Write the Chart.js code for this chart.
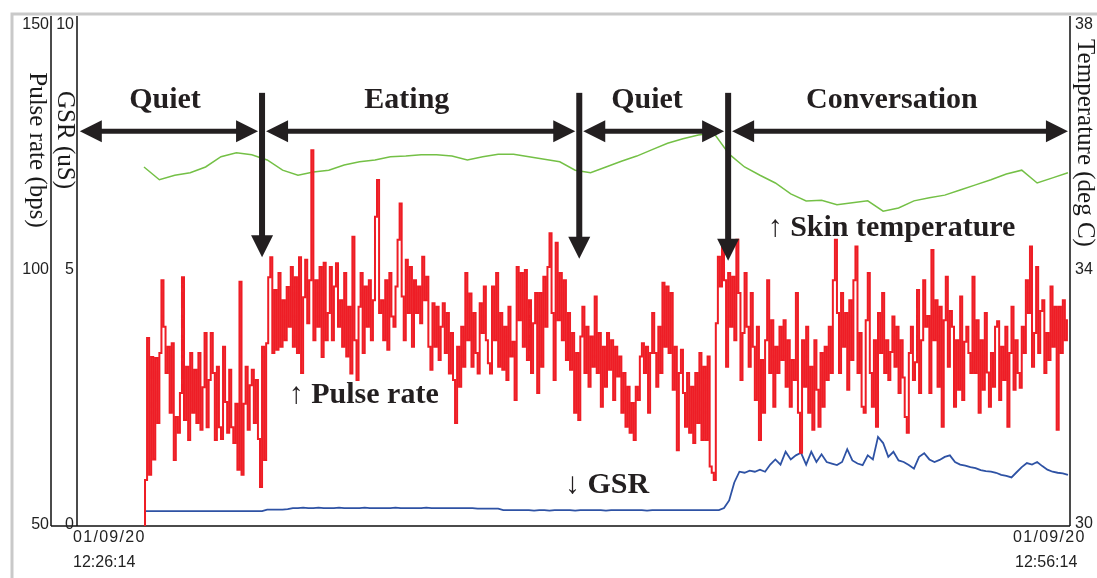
<!DOCTYPE html>
<html>
<head>
<meta charset="utf-8">
<script src="https://cdn.jsdelivr.net/npm/chart.js@4.4.0/dist/chart.umd.min.js"></script>
<style>
  html, body { margin: 0; padding: 0; background: #fff; }
  #wrap { width: 1097px; height: 578px; position: relative; }
</style>
</head>
<body>
<div id="wrap"><canvas id="c" width="1097" height="578"></canvas></div>
<script>
// ---- recorded signals (time in seconds from 12:26:14) ----
const pulseStep = 4;   // s between pulse samples
const pulseRate = [
  50, 59, 86.7, 60, 83, 63, 82.8, 70.1, 83.8, 98,
  88.9, 79.9, 85, 72.1, 85.7, 62.9, 71.3, 68.2, 76, 98.6,
  70.7, 81.1, 66.8, 83.8, 72.1, 80.5, 70.1, 83.8, 68.8, 77.1,
  87.7, 69.3, 78.5, 87.7, 79.9, 66.8, 81.1, 69.3, 67, 85,
  74.2, 68.2, 80.5, 69.3, 66.2, 73.9, 61, 97.7, 60, 73.9,
  81.1, 68.8, 77.5, 80.5, 70.1, 78.5, 67, 57.6, 85, 62.9,
  85.7,
  98.6, 102.5, 83.8, 96.1, 84.4, 99.4, 85, 94.1, 86.3, 96.7,
  88.9, 100.6, 85, 98.6, 83.8, 102.5, 79.9, 94.7, 102, 89.6,
  98, 123.4, 86.3, 98, 88.9, 100.6, 83, 101.4, 86.3, 91.6,
  100.6, 86.3, 96.8, 101.3, 88.9, 94.1, 85, 99.4, 83.1, 92.8,
  79.8, 106.5, 86.3, 78.5, 92.8, 99.4, 83.8, 96.8, 88.9, 98,
  86.3, 94.1, 110.4, 117.6, 91.6, 94.1, 86.3, 98, 84.4, 99.4,
  90.9, 88.9, 96.8, 105.9, 113, 94.8, 86.3, 102, 91.6, 100.6,
  85, 98, 91.6, 96.8, 89.6, 102.6, 94.1, 98.7, 85, 80.5,
  93.5, 85, 92.8, 82.4, 88.9, 93.5, 83.8, 91.6, 79.8, 87.7,
  78.5, 70.1, 85, 77.2, 88.9, 81.1, 99.4, 86.3, 95.4, 81.1,
  91.6, 83.8, 79.8, 93.5, 87.7, 96.8, 86.3, 81.8, 79.8, 96.8,
  86.3, 99.4, 81.1, 91.6, 80.5, 88.9, 78.5, 92.8, 83.1, 86,
  74.6, 100.6, 90.2, 99.4, 85, 100, 82.4, 94.1, 79.9, 89.6,
  95.5, 76, 95.5, 81.1, 98.7, 88.9, 100.6, 107.2, 91.6, 78.5,
  105.3, 90.2, 99.4, 86.3, 98, 82.4, 91.6, 80.5, 87.7, 72.1,
  83.8, 70.7, 87, 92.8, 79.9, 88.9, 77.2, 87, 81.1, 94.8,
  79.9, 87.7, 73.3, 85, 77.2, 87.7, 80.5, 86.3, 74.6, 85,
  79.2, 83.1, 72.1, 79.9, 69.4, 77.2, 68.2, 74, 66.8, 77.2,
  74.6, 83.1, 85.7, 79.9, 85, 72.1, 83.8, 91.6, 83.8, 77.2,
  88.9, 79.9, 97.5, 85, 96.8, 83.8, 95.5, 76.6, 85, 64.8,
  79.9, 84.4, 76, 69.4, 79.9, 68.2, 77.2, 66.2, 79.9, 70.1,
  83.8, 66.8, 81.1, 66.8, 83.1, 61.6, 60.4, 59,
  89.6, 102.6, 96.8, 105.3, 98, 81.1, 99.4, 88.9, 98.7, 86.3,
  105.9, 95.5, 78.5, 87.7, 99.4, 88.9, 81.1, 95.5, 85, 74.6,
  88.9, 66.8, 82.4, 72.1, 86.3, 98, 79.9, 90.2, 73.3, 85,
  79.9, 88.9, 82.4, 90.2, 77.2, 86.3, 73.3, 82.4, 78.5, 95.5,
  72.1, 64.3, 86.3, 77.2, 88.9, 72.1, 81.1, 68.8, 86.3, 76.6,
  69.4, 83.8, 73.3, 85, 78.5, 88.9, 79.9, 98, 105.9, 91.6,
  79.9, 95.5, 85, 91.6, 76.6, 94.1, 82.4, 98, 104.6, 79.9,
  87.7, 73.3, 72.1, 90.2, 99.4, 79.9, 73.3, 86.3, 69.4, 91.6,
  83.8, 95.5, 79.9,
  86.3, 78.5, 84, 90.9, 81.1, 88.9, 76, 86.3, 79, 71.3,
  68.2, 83.8, 88.9, 78.5, 82, 96.1, 76, 86.3, 98, 88.9,
  91, 76, 103.9, 86.3, 94.1, 77.2, 92.8, 69.4, 90.2, 98.7,
  81.1, 92, 88.9, 73.3, 86.3, 76.6, 94.8, 74.6, 86, 88.9,
  83.8, 79.9, 98.7, 79.9, 90.2, 72.1, 86.3, 76.6, 91.6, 80,
  73.3, 83.8, 77.2, 88.9, 90, 74.6, 85, 78.5, 88.9, 69.4,
  83.8, 92.8, 76.6, 86.3, 79.9, 77, 88.9, 83.8, 98, 91.6,
  104.6, 81.1, 87.7, 100.6, 83.8, 92, 94.1, 79.9, 87.7, 82.4,
  96.8, 85, 92.8, 68.8, 92.8, 83.8, 94.1, 86.3, 90.2
];

const gsrStep = 10;    // s between GSR samples
const gsr = [
  0.29, 0.29, 0.29, 0.29, 0.29, 0.29, 0.29, 0.29, 0.29, 0.29,
  0.29, 0.29, 0.29, 0.29, 0.29, 0.29, 0.29, 0.29, 0.29, 0.29,
  0.29, 0.29, 0.29, 0.29, 0.32, 0.32, 0.32, 0.32, 0.33, 0.35,
  0.35, 0.36, 0.35, 0.35, 0.36, 0.35, 0.35, 0.35, 0.36, 0.35,
  0.35, 0.35, 0.35, 0.36, 0.35, 0.35, 0.35, 0.35, 0.35, 0.36,
  0.35, 0.35, 0.35, 0.35, 0.35, 0.36, 0.35, 0.35, 0.35, 0.35,
  0.35, 0.35, 0.35, 0.35, 0.35, 0.34, 0.34, 0.34, 0.34, 0.34,
  0.31, 0.31, 0.31, 0.31, 0.31, 0.31, 0.30, 0.31, 0.31, 0.30,
  0.31, 0.31, 0.31, 0.31, 0.30, 0.31, 0.31, 0.31, 0.31, 0.31,
  0.30, 0.31, 0.31, 0.31, 0.31, 0.31, 0.31, 0.31, 0.30, 0.31,
  0.31, 0.31, 0.31, 0.31, 0.31, 0.31, 0.31, 0.31, 0.31, 0.31,
  0.31, 0.31, 0.31,
  0.35, 0.5, 0.85, 1.06, 1.04, 1.08, 1.06, 1.1, 1.06, 1.2,
  1.3, 1.2, 1.45, 1.3, 1.38, 1.43, 1.2, 1.45, 1.25, 1.4,
  1.25, 1.22, 1.19, 1.25, 1.5, 1.28, 1.22, 1.19, 1.38, 1.3,
  1.74, 1.62, 1.35, 1.45, 1.28, 1.25, 1.19, 1.12, 1.35, 1.42,
  1.3, 1.25, 1.29, 1.35, 1.38, 1.25, 1.2, 1.18, 1.15, 1.13,
  1.09, 1.07, 1.06, 1.04, 1.0, 0.98, 0.95, 1.05, 1.15, 1.23,
  1.2, 1.25, 1.17, 1.1, 1.06, 1.04, 1.03, 1.0
];

const tempStep = 30;   // s between skin temperature samples
const skinTemp = [
  35.61, 35.41, 35.48, 35.52, 35.61, 35.77, 35.83, 35.80, 35.72, 35.56,
  35.48, 35.53, 35.56, 35.64, 35.69, 35.72, 35.77, 35.78, 35.80, 35.80,
  35.78, 35.72, 35.77, 35.81, 35.81, 35.77, 35.73, 35.69, 35.56, 35.52,
  35.61, 35.70, 35.78, 35.88, 35.98, 36.05, 36.11, 36.14, 35.81, 35.61,
  35.48, 35.36, 35.19, 35.08, 35.09, 35.02, 35.05, 35.08, 34.92, 34.97,
  35.08, 35.13, 35.17, 35.25, 35.33, 35.41, 35.50, 35.56, 35.36, 35.44,
  35.52
];

// ---- axes ----
const pulseTicks = [150, 100, 50];
const gsrTicks = [10, 5, 0];
const tempTicks = [38, 34, 30];
const startStamp = ['01/09/20', '12:26:14'];
const endStamp = ['01/09/20', '12:56:14'];

// ---- activity phases (s) ----
const phaseNames = ['Quiet', 'Eating', 'Quiet', 'Conversation'];
const phaseFrom = [-125, 230, 848, 1138];
const phaseTo = [230, 848, 1138, 1800];
const phaseLabelAt = [41, 512, 980, 1457];
const eventTimes = [230, 848, 1138];
const eventTips = [102.5, 102.2, 101.8];

const SERIF = '"Liberation Serif", "Times New Roman", serif';
const SANS = '"Liberation Sans", Arial, sans-serif';
const INK = '#231f20';

const toPoints = (arr, step) => arr.map((v, i) => ({ x: i * step, y: v }));

const decor = {
  id: 'decor',
  beforeDatasetsDraw(chart) {
    const { ctx, chartArea: a, scales } = chart;
    const p = scales.yPulse, g = scales.yGsr;
    ctx.save();
    // outer window frame
    ctx.strokeStyle = '#c9c9c9';
    ctx.lineWidth = 3;
    ctx.beginPath();
    ctx.moveTo(p.left, chart.height);
    ctx.lineTo(p.left, a.top);
    ctx.lineTo(chart.width, a.top);
    ctx.stroke();
    // axis lines
    ctx.strokeStyle = '#111';
    ctx.lineWidth = 1.5;
    ctx.beginPath();
    ctx.moveTo(p.right, a.top + 2); ctx.lineTo(p.right, a.bottom);
    ctx.moveTo(g.right, a.top + 2); ctx.lineTo(g.right, a.bottom);
    ctx.moveTo(a.right, a.top + 2); ctx.lineTo(a.right, a.bottom);
    ctx.moveTo(p.right, a.bottom); ctx.lineTo(a.right, a.bottom);
    ctx.stroke();
    ctx.restore();
  },
  afterDatasetsDraw(chart) {
    const { ctx, chartArea: a, scales } = chart;
    const p = scales.yPulse, g = scales.yGsr, t = scales.yTemp, x = scales.x;
    ctx.save();

    // tick labels
    const tickY = (s, v) => Math.min(Math.max(s.getPixelForValue(v), s.top + 11), s.bottom - 1);
    ctx.font = '16px ' + SANS;
    ctx.fillStyle = '#222';
    ctx.textBaseline = 'middle';
    ctx.textAlign = 'right';
    pulseTicks.forEach(v => ctx.fillText(String(v), p.right - 2, tickY(p, v)));
    gsrTicks.forEach(v => ctx.fillText(String(v), g.right - 3, tickY(g, v)));
    ctx.textAlign = 'left';
    tempTicks.forEach(v => ctx.fillText(String(v), t.left + 5, Math.min(tickY(t, v), t.bottom - 2)));

    // time stamps
    ctx.textAlign = 'left';
    if ('letterSpacing' in ctx) ctx.letterSpacing = '1.3px';
    ctx.fillText(startStamp[0], g.right - 4, a.bottom + 12);
    ctx.fillText(endStamp[0], a.right - 57, a.bottom + 12);
    if ('letterSpacing' in ctx) ctx.letterSpacing = '0px';
    ctx.fillText(startStamp[1], g.right - 4, a.bottom + 37);
    ctx.fillText(endStamp[1], a.right - 55, a.bottom + 37);

    // axis titles, reading downwards
    const vText = (txt, cx, cy) => {
      ctx.save();
      ctx.translate(cx, cy);
      ctx.rotate(Math.PI / 2);
      ctx.textAlign = 'center';
      ctx.textBaseline = 'middle';
      ctx.fillText(txt, 0, 0);
      ctx.restore();
    };
    ctx.fillStyle = '#1a1a1a';
    ctx.font = '25px ' + SERIF;
    vText('Pulse rate (bps)', p.right - 14, 150);
    vText('GSR (uS)', g.right - 12, 140);
    vText('Temperature (deg C)', t.left + 15, 143);

    // phase arrows
    ctx.fillStyle = INK;
    const HL = 22, HW = 11;
    const tri = (x0, y0, x1, y1, x2, y2) => {
      ctx.beginPath(); ctx.moveTo(x0, y0); ctx.lineTo(x1, y1); ctx.lineTo(x2, y2); ctx.closePath(); ctx.fill();
    };
    const armY = p.getPixelForValue(127.1);
    phaseNames.forEach((name, i) => {
      const x1 = x.getPixelForValue(phaseFrom[i]) + (i === 0 ? 0 : 4);
      const x2 = x.getPixelForValue(phaseTo[i]) - (i === phaseNames.length - 1 ? 0 : 4);
      ctx.fillRect(x1 + HL - 1, armY - 2.5, x2 - x1 - 2 * HL + 2, 5);
      tri(x1, armY, x1 + HL, armY - HW, x1 + HL, armY + HW);
      tri(x2, armY, x2 - HL, armY - HW, x2 - HL, armY + HW);
    });
    eventTimes.forEach((tm, i) => {
      const cx = x.getPixelForValue(tm);
      const y1 = p.getPixelForValue(134.6);
      const y2 = p.getPixelForValue(eventTips[i]);
      ctx.fillRect(cx - 3, y1, 6, y2 - y1 - HL + 1);
      tri(cx, y2, cx - HW, y2 - HL, cx + HW, y2 - HL);
    });

    // phase names
    ctx.font = 'bold 30px ' + SERIF;
    ctx.textAlign = 'center';
    ctx.textBaseline = 'alphabetic';
    phaseNames.forEach((name, i) => {
      ctx.fillText(name, x.getPixelForValue(phaseLabelAt[i]), p.getPixelForValue(131.6));
    });

    // series captions
    ctx.textAlign = 'left';
    ctx.fillText('\u2191 Skin temperature', x.getPixelForValue(1215), p.getPixelForValue(106.6));
    ctx.fillText('\u2191 Pulse rate', x.getPixelForValue(282), p.getPixelForValue(74.0));
    ctx.fillText('\u2193 GSR', x.getPixelForValue(820), p.getPixelForValue(56.4));

    ctx.restore();
  }
};

const hiddenAxis = {
  ticks: { display: false },
  grid: { display: false, drawTicks: false },
  border: { display: false },
  title: { display: false }
};

new Chart(document.getElementById('c'), {
  type: 'line',
  data: {
    datasets: [
      {
        label: 'Pulse rate',
        data: toPoints(pulseRate, pulseStep),
        yAxisID: 'yPulse',
        borderColor: '#ee1d25',
        borderWidth: 2,
        pointRadius: 0,
        stepped: 'middle',
        order: 1
      },
      {
        label: 'Skin temperature',
        data: toPoints(skinTemp, tempStep),
        yAxisID: 'yTemp',
        borderColor: '#74c046',
        borderWidth: 1.5,
        pointRadius: 0,
        tension: 0,
        order: 2
      },
      {
        label: 'GSR',
        data: toPoints(gsr, gsrStep),
        yAxisID: 'yGsr',
        borderColor: '#2e52a4',
        borderWidth: 1.8,
        pointRadius: 0,
        tension: 0,
        order: 3
      }
    ]
  },
  options: {
    responsive: false,
    animation: false,
    events: [],
    layout: { padding: { left: 12, top: 14, right: 0, bottom: 52 } },
    plugins: { legend: { display: false }, tooltip: { enabled: false } },
    scales: {
      x: { type: 'linear', min: -130.5, max: 1804, display: false },
      yPulse: Object.assign({ position: 'left', weight: 2, min: 50, max: 150,
        afterFit(s) { s.width = 39; } }, hiddenAxis),
      yGsr: Object.assign({ position: 'left', weight: 1, min: 0, max: 10,
        afterFit(s) { s.width = 26; } }, hiddenAxis),
      yTemp: Object.assign({ position: 'right', min: 30, max: 38,
        afterFit(s) { s.width = 27; } }, hiddenAxis)
    }
  },
  plugins: [decor]
});
</script>
</body>
</html>
